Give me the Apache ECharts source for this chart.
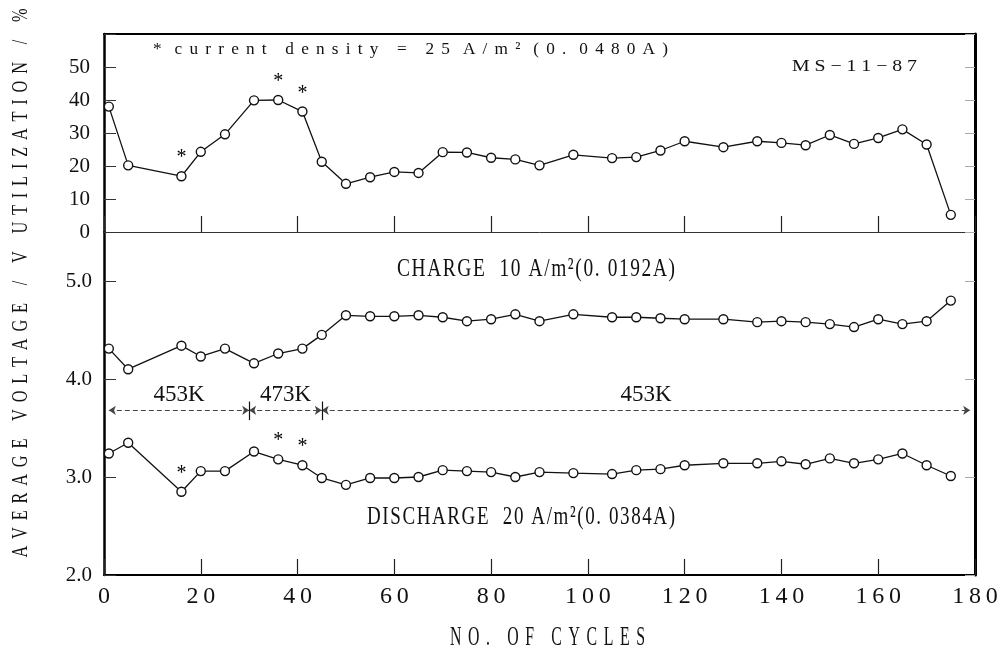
<!DOCTYPE html>
<html lang="en">
<head>
<meta charset="UTF-8">
<title>MS-11-87</title>
<script src="https://cdn.jsdelivr.net/npm/echarts@6/dist/echarts.min.js"></script>
</head>
<body style="margin:0;background:#fff;">
<div id="main" style="width:998px;height:650px;"></div>
<script>
// cycle numbers shared by the three curves
var cycles = [1, 5, 16, 20, 25, 31, 36, 41, 45, 50, 55, 60, 65, 70, 75, 80, 85, 90, 97, 105, 110, 115, 120, 128, 135, 140, 145, 150, 155, 160, 165, 170, 175];
var utilization = [38, 20.2, 16.9, 24.3, 29.6, 39.9, 40.0, 36.5, 21.3, 14.6, 16.6, 18.2, 17.9, 24.2, 24.1, 22.5, 22.0, 20.2, 23.4, 22.4, 22.7, 24.7, 27.5, 25.7, 27.5, 27.0, 26.3, 29.4, 26.7, 28.5, 31.1, 26.5, 5.2];
var chargeV = [4.31, 4.10, 4.34, 4.23, 4.31, 4.16, 4.26, 4.31, 4.45, 4.65, 4.64, 4.64, 4.65, 4.63, 4.59, 4.61, 4.66, 4.59, 4.66, 4.63, 4.63, 4.62, 4.61, 4.61, 4.58, 4.59, 4.58, 4.56, 4.53, 4.61, 4.56, 4.59, 4.80];
var dischargeV = [3.24, 3.35, 2.85, 3.06, 3.06, 3.26, 3.18, 3.12, 2.99, 2.92, 2.99, 2.99, 3.00, 3.07, 3.06, 3.05, 3.00, 3.05, 3.04, 3.03, 3.07, 3.08, 3.12, 3.14, 3.14, 3.16, 3.13, 3.19, 3.14, 3.18, 3.24, 3.12, 3.01];
// cycles run at 25 A/m2
var starCycles = [16, 36, 41];
// temperature periods
var tempBounds = [1, 30, 45, 179];
var tempLabels = ['453K', '473K', '453K'];
var tempLevel = 3.68;
var tempBar = [3.58, 3.77];

var FONT = "'Liberation Serif', 'DejaVu Serif', serif";
var chart = echarts.init(document.getElementById('main'));

// squeeze a text horizontally so it fills the given span
var mctx = document.createElement('canvas').getContext('2d');
function spaced(s) { return s.split('').join('\u200A'); }
function fitText(str, size, x0, x1, y) {
    mctx.font = size + 'px ' + FONT;
    var w = mctx.measureText(str).width;
    return {
        type: 'text', x: x0, y: y, scaleX: (x1 - x0) / w, scaleY: 1,
        style: { text: str, font: size + 'px ' + FONT, fill: '#111', textAlign: 'left', textVerticalAlign: 'middle' }
    };
}

function points(ys, stars) {
    return cycles.map(function (c, i) {
        var d = { value: [c, ys[i]] };
        if (stars && starCycles.indexOf(c) >= 0) d.label = { show: true };
        return d;
    });
}

var lineStyle = { color: '#111', width: 1.3 };
var itemStyle = { color: '#fff', borderColor: '#111', borderWidth: 1.4 };
var starLabel = { show: false, position: 'top', distance: 3, formatter: '*', fontSize: 20, color: '#000', fontFamily: FONT };

var arrowSegs = [], barSegs = [];
for (var i = 0; i < tempLabels.length; i++) {
    arrowSegs.push([{ coord: [tempBounds[i], tempLevel], name: tempLabels[i] }, { coord: [tempBounds[i + 1], tempLevel] }]);
}
[tempBounds[1], tempBounds[2]].forEach(function (b) {
    barSegs.push([{ coord: [b, tempBar[0]] }, { coord: [b, tempBar[1]] }]);
});

var xBase = { type: 'value', min: 0, max: 180, interval: 20, splitLine: { show: false } };

chart.setOption({
    animation: false,
    grid: [
        { left: 104, right: 23, top: 34, height: 198, outerBoundsMode: 'none', containLabel: false },
        { left: 104, right: 23, top: 232, height: 343, outerBoundsMode: 'none', containLabel: false }
    ],
    xAxis: [
        Object.assign({}, xBase, {
            gridIndex: 0, position: 'bottom',
            axisLine: { onZero: false, lineStyle: { color: '#333', width: 1 } },
            axisTick: { inside: true, length: 16, lineStyle: { color: '#222', width: 1.2 } },
            axisLabel: { show: false }
        }),
        Object.assign({}, xBase, {
            gridIndex: 1, position: 'bottom',
            axisLine: { onZero: false, lineStyle: { color: '#000', width: 2 } },
            axisTick: { inside: true, length: 16, lineStyle: { color: '#222', width: 1.2 } },
            axisLabel: { color: '#111', fontSize: 24, fontFamily: FONT, margin: 10,
                formatter: function (v) { return String(v).split('').join('\u2009'); } }
        }),
        Object.assign({}, xBase, {
            gridIndex: 0, position: 'top',
            axisLine: { onZero: false, lineStyle: { color: '#000', width: 2 } },
            axisTick: { show: false }, axisLabel: { show: false }
        })
    ],
    yAxis: [
        { type: 'value', gridIndex: 0, position: 'left', min: 0, max: 60, interval: 10, splitLine: { show: false },
          axisLine: { show: true, onZero: false, lineStyle: { color: '#000', width: 2.5 } },
          axisTick: { inside: true, length: 12, lineStyle: { color: '#333' } },
          axisLabel: { color: '#111', fontSize: 21, fontFamily: FONT, margin: 14,
              formatter: function (v) { return v > 50 ? '' : v; } } },
        { type: 'value', gridIndex: 0, position: 'right', min: 0, max: 60, interval: 10, splitLine: { show: false },
          axisLine: { show: true, onZero: false, lineStyle: { color: '#000', width: 3 } },
          axisTick: { inside: true, length: 10, lineStyle: { color: '#aaa' } },
          axisLabel: { show: false } },
        { type: 'value', gridIndex: 1, position: 'left', min: 2, max: 5.5, interval: 1, splitLine: { show: false },
          axisLine: { show: true, onZero: false, lineStyle: { color: '#000', width: 2.5 } },
          axisTick: { inside: true, length: 12, lineStyle: { color: '#333' } },
          axisLabel: { color: '#111', fontSize: 21, fontFamily: FONT, margin: 12,
              formatter: function (v) { return v % 1 === 0 ? v.toFixed(1) : ''; } } },
        { type: 'value', gridIndex: 1, position: 'right', min: 2, max: 5.5, interval: 1, splitLine: { show: false },
          axisLine: { show: true, onZero: false, lineStyle: { color: '#000', width: 3 } },
          axisTick: { inside: true, length: 10, lineStyle: { color: '#aaa' } },
          axisLabel: { show: false } }
    ],
    series: [
        { name: 'utilization', type: 'line', xAxisIndex: 0, yAxisIndex: 0, data: points(utilization, true),
          symbol: 'circle', symbolSize: 9, lineStyle: lineStyle, itemStyle: itemStyle, label: starLabel },
        { name: 'charge', type: 'line', xAxisIndex: 1, yAxisIndex: 2, data: points(chargeV, false),
          symbol: 'circle', symbolSize: 9, lineStyle: lineStyle, itemStyle: itemStyle },
        { name: 'discharge', type: 'line', xAxisIndex: 1, yAxisIndex: 2, data: points(dischargeV, true),
          symbol: 'circle', symbolSize: 9, lineStyle: lineStyle, itemStyle: itemStyle, label: starLabel },
        { name: 'temp', type: 'line', xAxisIndex: 1, yAxisIndex: 2, data: [],
          markLine: { silent: true, symbol: ['arrow', 'arrow'], symbolSize: 7,
              lineStyle: { color: '#444', width: 1, type: [5, 3] },
              label: { show: true, position: 'middle', formatter: '{b}', fontSize: 23, fontFamily: FONT, color: '#111', distance: 4 },
              data: arrowSegs } },
        { name: 'tempBars', type: 'line', xAxisIndex: 1, yAxisIndex: 2, data: [],
          markLine: { silent: true, symbol: 'none', label: { show: false },
              lineStyle: { color: '#111', width: 1.2, type: 'solid' }, data: barSegs } }
    ],
    graphic: [
        fitText(spaced('*  c u r r e n t   d e n s i t y   =   2 5  A / m ²  ( 0 .  0 4 8 0 A )'), 17, 153, 668, 50),
        fitText('M S − 1 1 − 8 7', 17, 792, 917, 67),
        fitText(spaced('CHARGE  10 A/m²(0. 0192A)'), 26, 397, 675, 269),
        fitText(spaced('DISCHARGE  20 A/m²(0. 0384A)'), 26, 367, 675, 517),
        fitText(spaced('N O .   O F   C Y C L E S'), 28, 450, 645, 638),
        (function () {
            var s = spaced('A V E R A G E   V O L T A G E   /   V   U T I L I Z A T I O N   /   %');
            mctx.font = '24px ' + FONT;
            var w = mctx.measureText(s).width;
            return { type: 'text', x: 21, y: 283, rotation: Math.PI / 2, scaleX: 549 / w,
                style: { text: s, font: '24px ' + FONT, fill: '#111', textAlign: 'center', textVerticalAlign: 'middle' } };
        })()
    ]
});
</script>
</body>
</html>
